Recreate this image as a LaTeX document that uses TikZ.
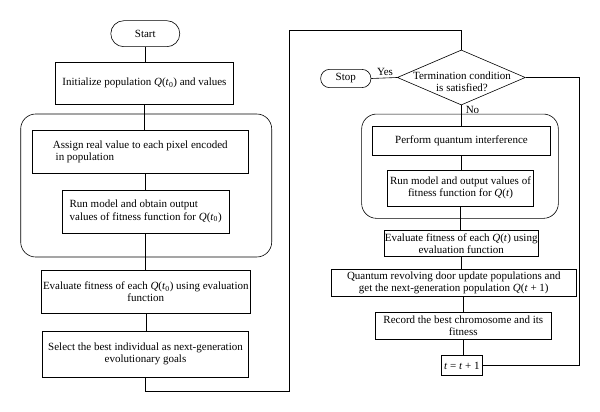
\documentclass[tikz,border=0pt]{standalone}
\usepackage{fontspec}
\setmainfont{Liberation Serif}
\usetikzlibrary{shapes.geometric}
\newcommand{\myQ}{\textit{Q}}
\newcommand{\myt}{\textit{t}}
\begin{document}
\begin{tikzpicture}[x=1pt,y=-1pt, line width=0.6pt,
  box/.style={draw, rectangle, inner sep=0.5pt, align=center, font=\fontsize{11}{12.3}\selectfont},
  lbl/.style={inner sep=0pt, font=\fontsize{11}{12.3}\selectfont},
  cont/.style={draw, rectangle, rounded corners=15pt, inner sep=0pt}]
\useasboundingbox (0,0) rectangle (600,412);
% ---------- left column ----------
\node[box, rounded corners=13pt, minimum width=69pt, minimum height=26pt] (start) at (145.3,33.7) {Start};
\node[box, minimum width=177.6pt, minimum height=41.3pt] (init) at (144.5,83.3) {Initialize population \myQ(\myt\textsubscript{0}) and values};
\node[cont, minimum width=251pt, minimum height=143pt] (cont1) at (146.2,185.5) {};
\node[box, align=left, minimum width=216pt, minimum height=43.3pt] (assign) at (140.3,151.7) {Assign real value to each pixel encoded\\\ in population};
\node[box, align=left, minimum width=166.7pt, minimum height=43pt] (run1) at (145.7,211.5) {Run model and obtain output\\values of fitness function for \myQ(\myt\textsubscript{0})};
\node[box, minimum width=208.3pt, minimum height=42.3pt] (eval1) at (145.8,291.8) {Evaluate fitness of each \myQ(\myt\textsubscript{0}) using evaluation\\function};
\node[box, minimum width=205.7pt, minimum height=46.3pt] (select) at (145.5,354.2) {Select the best individual as next-generation\\evolutionary goals};
% ---------- right column ----------
\node[draw, diamond, minimum width=128pt, minimum height=55pt, inner sep=0pt] (dia) at (461.3,77.5) {};
\node[lbl, align=center] (diatxt) at (462,81.5) {Termination condition\\is satisfied?};
\node[box, rounded corners=9pt, minimum width=50.3pt, minimum height=18.3pt] (stop) at (345.8,78.5) {Stop};
\node[lbl] (yes) at (385,71.7) {Yes};
\node[lbl, anchor=west] (no) at (465.5,109.5) {No};
\node[cont, minimum width=196.7pt, minimum height=104.3pt] (cont2) at (460,166.2) {};
\node[box, minimum width=178.3pt, minimum height=29.7pt] (perform) at (461.5,140.8) {Perform quantum interference};
\node[box, inner sep=0.3pt, minimum width=145.7pt, minimum height=36pt] (run2) at (460.5,188) {Run model and output values of\\fitness function for \myQ(\myt)};
\node[box, inner sep=0.3pt, minimum width=152.3pt, minimum height=26pt] (eval2) at (461.2,243.7) {Evaluate fitness of each \myQ(\myt) using\\evaluation function};
\node[box, minimum width=244.3pt, minimum height=27.3pt] (quant) at (453.8,283) {Quantum revolving door update populations and\\get the next-generation population \myQ(\myt\ + 1)};
\node[box, minimum width=175.3pt, minimum height=26.7pt] (record) at (463.3,326) {Record the best chromosome and its\\fitness};
\node[box, minimum width=41.7pt, minimum height=20pt] (tbox) at (461.8,365.7) {\myt\ = \myt\ + 1};
% ---------- coordinates ----------
\coordinate (l1) at (289.3,391);
\coordinate (l2) at (289.3,30.7);
\coordinate (r1) at (579.3,77.5);
\coordinate (r2) at (579.3,365.7);
% ---------- connectors ----------
\draw (start.south) -- (start.south |- init.north);
\draw (init.south) -- (init.south |- assign.north);
\draw (assign.south -| run1.north) -- (run1.north);
\draw (run1.south) -- (run1.south |- eval1.north);
\draw (eval1.south) -- (eval1.south |- select.north);
\draw (select.south) |- (l1) -- (l2) -| (dia.north);
\draw (stop.east) -- (dia.west);
\draw (dia.east) -- (r1) -- (r2) -- (tbox.east);
\draw (dia.south) -- (dia.south |- perform.north);
\draw (perform.south) -- (perform.south |- run2.north);
\draw (run2.south) -- (run2.south |- eval2.north);
\draw (eval2.south) -- (eval2.south |- quant.north);
\draw (quant.south -| record.north) -- (record.north);
\draw (record.south) -- (record.south |- tbox.north);
\end{tikzpicture}
\end{document}
